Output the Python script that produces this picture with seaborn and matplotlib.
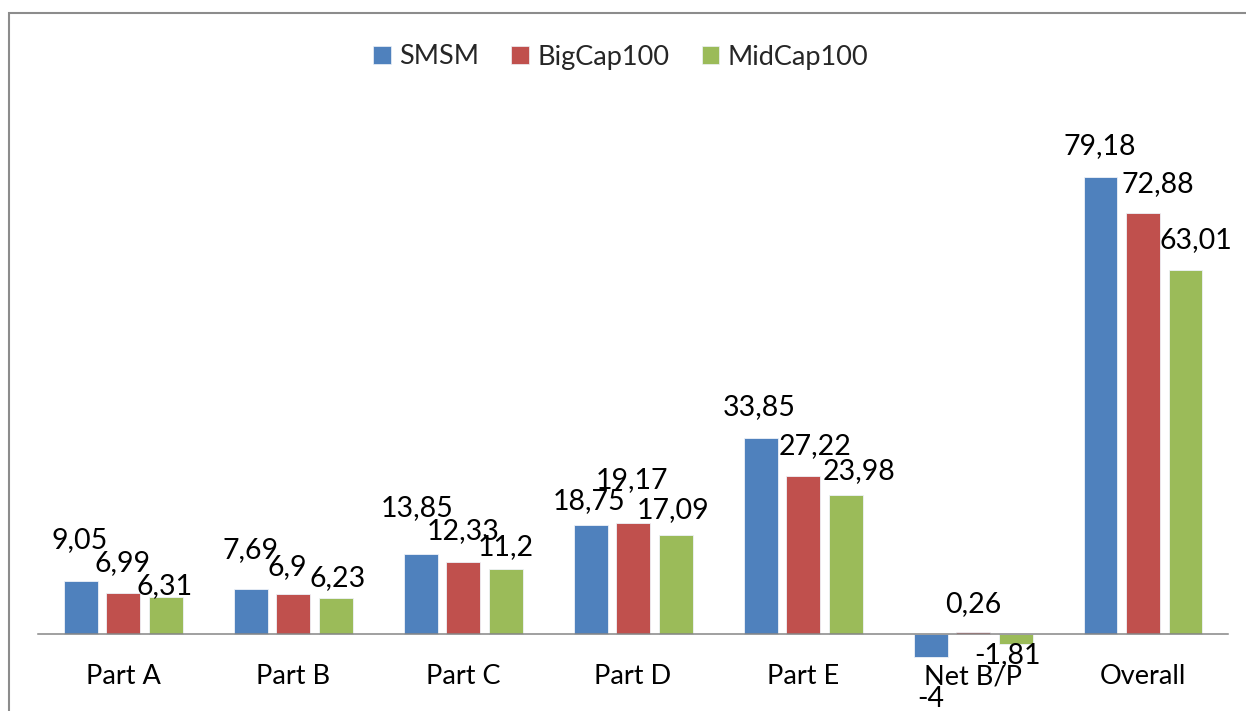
import numpy as np
import pandas as pd
import matplotlib
matplotlib.use("Agg")
import matplotlib.pyplot as plt
import seaborn as sns
from matplotlib.patches import Patch, Rectangle

# --- Data ---
categories = ["Part A", "Part B", "Part C", "Part D", "Part E", "Net B/P", "Overall"]
series_names = ["SMSM", "BigCap100", "MidCap100"]
smsm = [9.05, 7.69, 13.85, 18.75, 33.85, -4.00, 79.18]
bigcap = [6.99, 6.90, 12.33, 19.17, 27.22, 0.26, 72.88]
midcap = [6.31, 6.23, 11.20, 17.09, 23.98, -1.81, 63.01]
value_labels = [
    ["9,05", "7,69", "13,85", "18,75", "33,85", "-4", "79,18"],
    ["6,99", "6,9", "12,33", "19,17", "27,22", "0,26", "72,88"],
    ["6,31", "6,23", "11,2", "17,09", "23,98", "-1,81", "63,01"],
]

# --- Styling ---
colors = ["#4F81BD", "#C0504D", "#9BBB59"]
FONT = ["Lato", "DejaVu Sans"]
FS = 19.5
FS_VAL = 20.5

# nudges (px) Excel applied to keep the data labels apart: (dx, distance from bar end)
label_nudge = [
    [(-1, 41), (0, 39), (-3, 46), (-1, 24), (-1, 31), (0, 42), (-1, 31)],
    [(-1, 30), (-6, 27), (0, 31), (-1, 43), (12, 30), (0, 28), (15, 29)],
    [(-1, 11), (2, 20), (0, 22), (-2, 25), (14, 24), (-8, 11), (10, 30)],
]

df = pd.DataFrame({
    "Category": categories * 3,
    "Series": np.repeat(series_names, len(categories)),
    "Value": smsm + bigcap + midcap,
})

sns.set_style("white")
plt.rcParams["font.family"] = FONT

fig = plt.figure(figsize=(12.46, 7.11), dpi=100)
ax = fig.add_axes([38 / 1246, 0.0278, 1190 / 1246, 0.8115])

sns.barplot(
    data=df, x="Category", y="Value", hue="Series",
    order=categories, hue_order=series_names, palette=colors, saturation=1,
    width=0.75, gap=0.2, errorbar=None, legend=False,
    edgecolor="#EEF2F8", linewidth=0.6, ax=ax,
)

ax.set_xlim(-0.5, len(categories) - 0.5)
ax.set_ylim(-10, 90)
ax.set_xlabel("")
ax.set_ylabel("")
ax.set_yticks([])

for side in ["top", "right", "left"]:
    ax.spines[side].set_visible(False)
ax.spines["bottom"].set_position(("data", 0))
ax.spines["bottom"].set_color("#868686")
ax.spines["bottom"].set_linewidth(1.1)
ax.tick_params(axis="x", length=0, pad=22, labelsize=FS, colors="black")

# data labels
for i, container in enumerate(ax.containers):
    for j, bar in enumerate(container):
        h = bar.get_height()
        xc = bar.get_x() + bar.get_width() / 2
        dx, dy = label_nudge[i][j]
        sign = 1 if h >= 0 else -1
        ax.annotate(
            value_labels[i][j], (xc, h), xytext=(dx, sign * dy),
            textcoords="offset pixels", ha="center", va="center",
            fontsize=FS_VAL, color="black", annotation_clip=False,
        )

# legend across the top
handles = [Patch(facecolor=c, edgecolor="#EEF2F8", linewidth=0.5) for c in colors]
fig.legend(
    handles, series_names, loc="center", bbox_to_anchor=(0.498, 1 - 57 / 711),
    ncol=3, frameon=False, fontsize=FS, handlelength=0.65, handleheight=0.65,
    handletextpad=0.3, columnspacing=1.2,
)

# outer chart frame (runs off the right and bottom edges)
fig.patches.append(Rectangle(
    (9 / 1246, -0.05), 1.2, 1 - 13 / 711 + 0.05, transform=fig.transFigure,
    fill=False, edgecolor="#8C8C8C", linewidth=1.5,
))

fig.savefig("out.png", dpi=100)
